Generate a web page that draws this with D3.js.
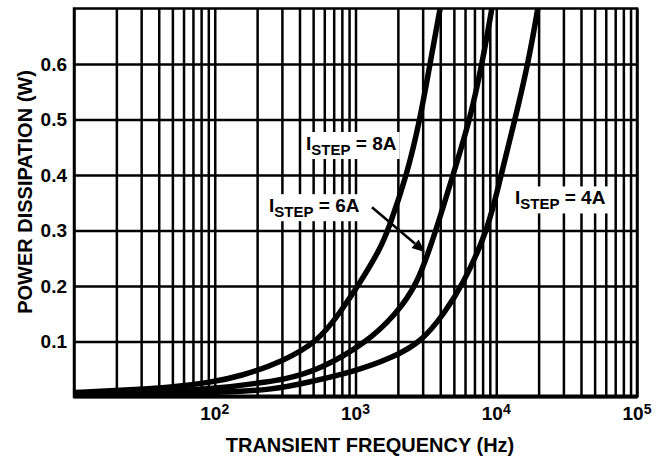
<!DOCTYPE html>
<html>
<head>
<meta charset="utf-8">
<script src="https://cdn.jsdelivr.net/npm/d3@7"></script>
<style>
  body { margin: 0; background: #fff; }
  text { font-family: "Liberation Sans", Arial, sans-serif; font-weight: bold; fill: #000; }
</style>
</head>
<body>
<div id="chart"></div>
<script>
// values
var freqLabels = [1e2, 1e3, 1e4, 1e5];
var powerTicks = [0.1, 0.2, 0.3, 0.4, 0.5, 0.6];

var freq8A  = [10, 21, 48, 92, 151, 305, 542, 776, 1042, 1493, 1702, 2322, 2873, 3384, 3984, 4600];
var power8A = [0.008, 0.012, 0.017, 0.026, 0.037, 0.064, 0.1, 0.152, 0.2, 0.266, 0.3, 0.4, 0.5, 0.6, 0.7, 0.78];

var freq6A  = [10, 50, 144, 209, 305, 560, 1227, 1910, 2735, 3731, 4930, 6510, 7924, 9329, 10800];
var power6A = [0.006, 0.01, 0.019, 0.026, 0.031, 0.049, 0.1, 0.148, 0.2, 0.3, 0.4, 0.5, 0.6, 0.7, 0.8];

var freq4A  = [10, 100, 259, 452, 960, 1845, 2969, 4300, 5710, 8737, 10810, 13590, 16810, 19800, 22800];
var power4A = [0.004, 0.007, 0.013, 0.026, 0.045, 0.071, 0.1, 0.152, 0.2, 0.3, 0.4, 0.5, 0.6, 0.7, 0.8];

var stepLabels = ["8A", "6A", "4A"];
var labelFreq  = [445, 243, 13580];
var labelPower = [0.445, 0.333, 0.347];

// arrow from the 6A label to its curve
var arrowFreq  = [1309, 3119];
var arrowPower = [0.342, 0.261];

var w = 660, h = 458;
// plot box (note: "top" is taken by window.top, so prefix these)
var pLeft = 74, pRight = 637, pTop = 8.5, pBottom = 397;

var svg = d3.select("#chart").append("svg").attr("width", w).attr("height", h);

var x = d3.scaleLog().domain([10, 1e5]).range([pLeft, pRight]);
var y = d3.scaleLinear().domain([0, 0.7]).range([pBottom, pTop]);

// grid: every 1..9 x 10^n line, plus the power lines
svg.append("g")
  .attr("transform", "translate(0," + pBottom + ")")
  .call(d3.axisBottom(x).tickSize(-(pBottom - pTop)).tickFormat(""))
  .call(g => g.select(".domain").remove())
  .selectAll("line").attr("stroke", "#000").attr("stroke-width", 2.5);

svg.append("g")
  .attr("transform", "translate(" + pLeft + ",0)")
  .call(d3.axisLeft(y).tickValues(powerTicks).tickSize(-(pRight - pLeft)).tickFormat(""))
  .call(g => g.select(".domain").remove())
  .selectAll("line").attr("stroke", "#000").attr("stroke-width", 2.5);

svg.append("rect")
  .attr("x", pLeft).attr("y", pTop)
  .attr("width", pRight - pLeft).attr("height", pBottom - pTop)
  .attr("fill", "none").attr("stroke", "#000").attr("stroke-width", 2.5);

svg.append("line")
  .attr("x1", pLeft).attr("x2", pRight)
  .attr("y1", pBottom - 0.5).attr("y2", pBottom - 0.5)
  .attr("stroke", "#000").attr("stroke-width", 4);

// curves (B-spline smooths the hand-read points)
var line = d3.line()
  .x(d => x(d[0]))
  .y(d => y(d[1]))
  .curve(d3.curveBasis);

var curves = [
  d3.zip(freq8A, power8A),
  d3.zip(freq6A, power6A),
  d3.zip(freq4A, power4A)
];

svg.append("clipPath").attr("id", "plotclip")
  .append("rect").attr("x", pLeft).attr("y", pTop)
  .attr("width", pRight - pLeft).attr("height", pBottom - pTop);

svg.append("g").attr("clip-path", "url(#plotclip)")
  .selectAll("path.curve")
  .data(curves)
  .enter()
  .append("path")
  .attr("class", "curve")
  .attr("d", line)
  .attr("fill", "none")
  .attr("stroke", "#000")
  .attr("stroke-width", 5.5)
  .attr("stroke-linejoin", "round");

// y tick labels
svg.selectAll("text.ytick")
  .data(powerTicks)
  .enter()
  .append("text")
  .attr("class", "ytick")
  .attr("x", 67)
  .attr("y", d => y(d))
  .attr("dy", "0.36em")
  .attr("text-anchor", "end")
  .style("font-size", "19px")
  .text(d => d.toFixed(1));

// x tick labels as powers of ten
var xt = svg.selectAll("text.xtick")
  .data(freqLabels)
  .enter()
  .append("text")
  .attr("class", "xtick")
  .attr("x", d => x(d))
  .attr("y", 420)
  .attr("text-anchor", "middle")
  .style("font-size", "19px");
xt.append("tspan").text("10");
xt.append("tspan")
  .attr("dy", "-0.45em")
  .style("font-size", "14px")
  .text(d => Math.round(Math.log10(d)));

// axis titles
svg.append("text")
  .attr("x", 370).attr("y", 452)
  .attr("text-anchor", "middle")
  .style("font-size", "20px")
  .text("TRANSIENT FREQUENCY (Hz)");

svg.append("text")
  .attr("transform", "translate(32,192) rotate(-90)")
  .attr("text-anchor", "middle")
  .style("font-size", "20px")
  .text("POWER DISSIPATION (W)");

// curve labels with white boxes behind them
var labels = svg.selectAll("g.steplabel")
  .data(stepLabels)
  .enter()
  .append("g")
  .attr("class", "steplabel")
  .attr("transform", (d, i) => "translate(" + x(labelFreq[i]) + "," + y(labelPower[i]) + ")");

var bg = labels.append("rect").attr("fill", "#fff");
var lt = labels.append("text").style("font-size", "19px");
lt.append("tspan").text("I");
lt.append("tspan").attr("dy", 5).style("font-size", "15px").text("STEP");
lt.append("tspan").attr("dy", -5).text(d => " = " + d);

lt.each(function(d, i) {
  var b = this.getBBox();
  d3.select(bg.nodes()[i])
    .attr("x", b.x - 3).attr("y", b.y - 1)
    .attr("width", b.width + 6).attr("height", b.height + 2);
});

// arrow
var x0 = x(arrowFreq[0]), y0 = y(arrowPower[0]);
var x1 = x(arrowFreq[1]), y1 = y(arrowPower[1]);
var ang = Math.atan2(y1 - y0, x1 - x0);
var headLen = 13, headW = 5.5;
var bx = x1 - headLen * Math.cos(ang), by = y1 - headLen * Math.sin(ang);

svg.append("line")
  .attr("x1", x0).attr("y1", y0).attr("x2", bx).attr("y2", by)
  .attr("stroke", "#000").attr("stroke-width", 2.5);

svg.append("polygon")
  .attr("points", [
    [x1, y1],
    [bx + headW * Math.sin(ang), by - headW * Math.cos(ang)],
    [bx - headW * Math.sin(ang), by + headW * Math.cos(ang)]
  ].map(p => p.join(",")).join(" "))
  .attr("fill", "#000");
</script>
</body>
</html>
